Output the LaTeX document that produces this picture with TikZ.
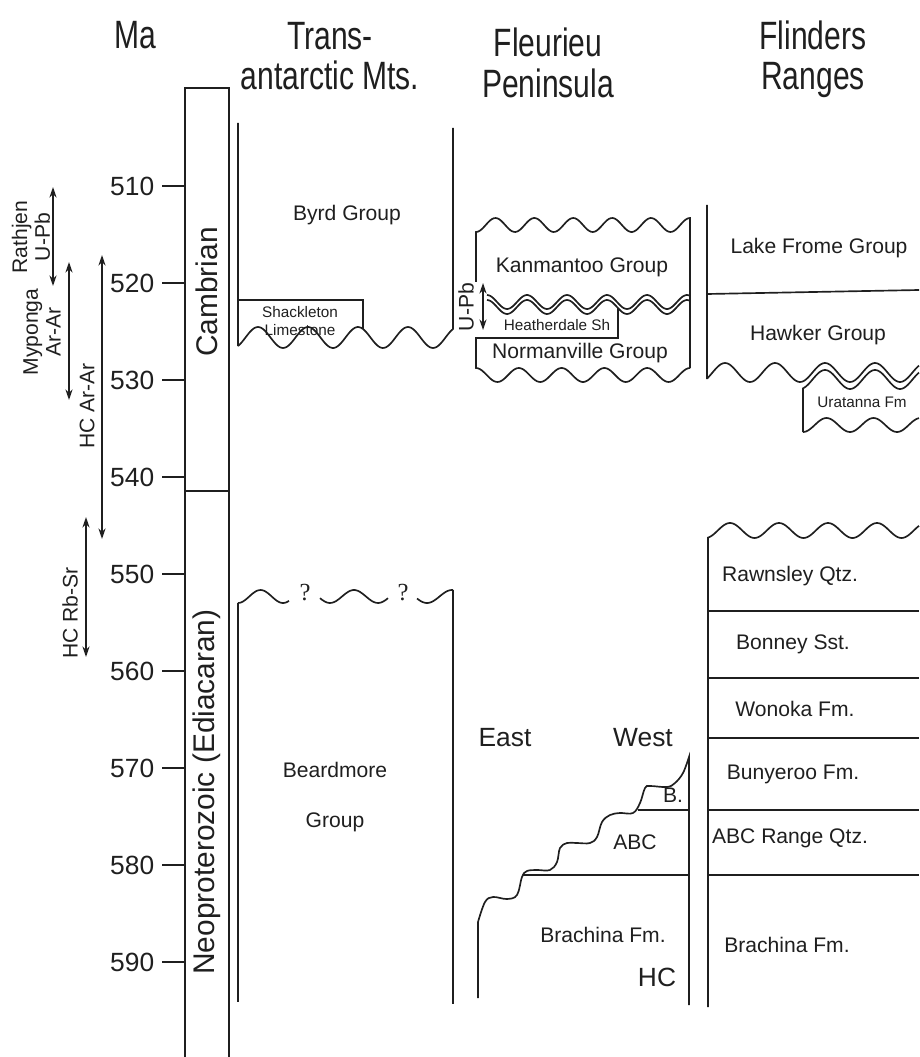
\documentclass[tikz,border=0pt]{standalone}
\usepackage{fontspec}
\setmainfont{Liberation Sans}
\newfontfamily\headfont[FakeStretch=0.76]{Liberation Sans}
\newfontfamily\qmfont{Liberation Serif}
\usetikzlibrary{arrows.meta}

\begin{document}
\begin{tikzpicture}[
        x=0.02cm, y=-0.02cm,
        line width=0.95pt, black!88,
        lbl/.style={inner sep=0pt, font=\fontsize{12}{13}\selectfont, align=center},
        tiny/.style={lbl, font=\fontsize{8.7}{10}\selectfont},
        big/.style={lbl, font=\fontsize{15}{17}\selectfont},
        head/.style={lbl, font=\headfont\fontsize{22.5}{23}\selectfont},
        era/.style={lbl, rotate=90, font=\fontsize{17}{19}\selectfont},
        agerange/.style={<->, >={Stealth[length=6pt,width=4pt]}},
    ]
    \useasboundingbox (0,0) rectangle (919,1057);

    % --- headings ---
    \node[head] (hma) at (135,35) {Ma};
    \node[head] (htam) at (330,56) {Trans-\\antarctic Mts.};
    \node[head] (hfleu) at (548,63) {Fleurieu\\Peninsula};
    \node[head] (hflin) at (813,59) {Flinders\\Ranges};

    % --- time scale ---
    \draw (185,1057) -- (185,88) -- (229,88) -- (229,1057);
    \draw (185,491) -- (229,491);
    \node[era] (camb) at (207,292) {Cambrian};
    \node[era] (neo) at (207,792) {Neoproterozoic (Ediacaran)};
    \foreach \t in {510,520,...,590} {
        \draw (162,{186+9.7*(\t-510)}) -- (185,{186+9.7*(\t-510)});
        \node[big, anchor=east] (ma\t) at (155,{186+9.7*(\t-510)}) {\t};
    }

    % --- age ranges ---
    \draw[agerange] (53,187) -- (53,286);
    \node[lbl, rotate=90] (rath) at (31,237) {Rathjen\\U-Pb};
    \draw[agerange] (69,262) -- (69,400);
    \node[lbl, rotate=90] (mypo) at (42,332) {Myponga\\Ar-Ar};
    \draw[agerange] (102,255) -- (102,539);
    \node[lbl, rotate=90] (hcar) at (87,406) {HC Ar-Ar};
    \draw[agerange] (86,517) -- (86,657);
    \node[lbl, rotate=90] (hcrb) at (70,613) {HC Rb-Sr};

    % --- Transantarctic Mts. ---
    \draw (238,123) -- (238,346)
        -- plot[domain=238:453, samples=120] (\x,{337.5-10.5*cos((\x-258)/50*360)})
        -- (453,128);
    \draw (238,300) -- (363,300) -- (363,{337.5-10.5*cos((363-258)/50*360)});
    \node[lbl] (byrd) at (347,215) {Byrd Group};
    \node[tiny] (shack) at (300,321) {Shackleton\\Limestone};

    \draw plot[domain=238:289, samples=30] (\x,{596.5+6.5*cos((\x-238)/45*360)});
    \draw plot[domain=320:388, samples=30] (\x,{596.5+6.5*cos((\x-330)/48*360)});
    \draw plot[domain=417:453, samples=30] (\x,{596.5+6.5*cos((\x-427)/50*360)});
    \node[lbl, font=\qmfont\fontsize{14}{15}\selectfont] (q1) at (305,593) {?};
    \node[lbl, font=\qmfont\fontsize{14}{15}\selectfont] (q2) at (403,593) {?};
    \draw (238,603) -- (238,1002);
    \draw (453,590) -- (453,1004);
    \node[lbl, font=\fontsize{12}{28}\selectfont] (beard) at (335,797) {Beardmore\\Group};

    % --- Fleurieu Peninsula ---
    \draw (476,282) -- (476,232)
        -- plot[domain=476:690, samples=120] (\x,{225+7*cos((\x-476)/38.9*360)})
        -- (690,368);
    \draw plot[domain=487:690, samples=120] (\x,{302-7*cos((\x-487)/40*360)});
    \draw plot[domain=487:690, samples=120] (\x,{307-7*cos((\x-487)/40*360)});
    \draw (618,{307-7*cos((618-487)/40*360)}) -- (618,338) -- (476,338) -- (476,368)
        -- plot[domain=476:690, samples=120] (\x,{375-7*cos((\x-476)/42.8*360)});
    \draw[agerange] (483,283) -- (483,330);
    \node[lbl, rotate=90] (upb) at (466,307) {U-Pb};
    \node[lbl] (kanm) at (582,267) {Kanmantoo Group};
    \node[tiny] (heath) at (557,325) {Heatherdale Sh};
    \node[lbl] (norm) at (580,353) {Normanville Group};

    \draw (478,998) -- plot[smooth, tension=0.6] coordinates {
        (478,922) (485,902) (493,897) (507,899) (517,895) (522,877)
        (527,871) (537,870) (550,870) (557,862) (560,848) (567,843)
        (577,843) (590,843) (597,837) (602,822) (610,815) (620,813)
        (633,813) (640,803) (645,788) (650,786) (667,787) (675,783)
        (683,773) (689,757)} -- (689,1005);
    \draw (523,875) -- (689,875);
    \draw (638,810) -- (689,810);
    \node[big] (east) at (505,738) {East};
    \node[big] (west) at (643,738) {West};
    \node[lbl] (bee) at (673,795) {B.};
    \node[lbl] (abc) at (635,842) {ABC};
    \node[lbl] (brachw) at (603,935) {Brachina Fm.};
    \node[big] (hc) at (657,977) {HC};

    % --- Flinders Ranges ---
    \draw (707,205) -- (707,379)
        -- plot[domain=707:919, samples=120] (\x,{372.5+9.5*cos((\x-700)/50*360)});
    \draw (707,294) -- (919,290);
    \draw (803,432) -- (803,{379.5+9.5*cos((803-700)/50*360)})
        -- plot[domain=803:919, samples=80] (\x,{379.5+9.5*cos((\x-700)/50*360)});
    \draw plot[domain=803:919, samples=80] (\x,{425+7*cos((\x-803)/47*360)});
    \node[lbl] (frome) at (819,248) {Lake Frome Group};
    \node[lbl] (hawk) at (818,335) {Hawker Group};
    \node[tiny] (urat) at (862,402) {Uratanna Fm};

    \draw (708,1007) -- (708,538)
        -- plot[domain=708:919, samples=120] (\x,{530.5-7.5*cos((\x-730)/49*360)});
    \foreach \y in {611,678,738,810,875}
        \draw (708,\y) -- (919,\y);
    \node[lbl] (rawn) at (790,576) {Rawnsley Qtz.};
    \node[lbl] (bonn) at (793,644) {Bonney Sst.};
    \node[lbl] (wono) at (795,709) {Wonoka Fm.};
    \node[lbl] (buny) at (793,774) {Bunyeroo Fm.};
    \node[lbl] (abcr) at (790,838) {ABC Range Qtz.};
    \node[lbl] (brache) at (787,945) {Brachina Fm.};
\end{tikzpicture}
\end{document}
